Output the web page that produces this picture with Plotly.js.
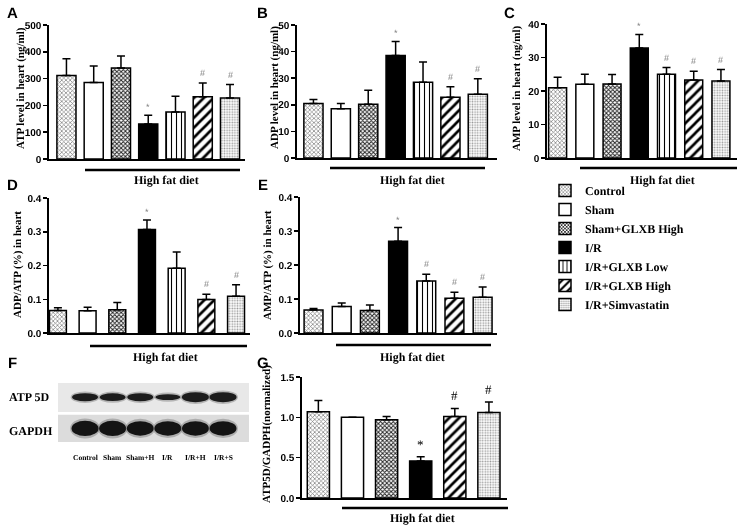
<!DOCTYPE html>
<html><head><meta charset="utf-8">
<script src="https://cdn.plot.ly/plotly-3.0.1.min.js"></script>
<style>html,body{margin:0;padding:0;background:#fff}#chart{width:743px;height:527px;will-change:transform}
#chart text{text-rendering:geometricPrecision}</style>
</head><body><div id="chart"></div>
<script>
// ---------- DATA ----------
const groups = ['Control','Sham','Sham+GLXB High','I/R','I/R+GLXB Low','I/R+GLXB High','I/R+Simvastatin'];
const atpMean = [312, 285, 340, 131, 175, 232, 228];
const atpErr  = [62, 62, 44, 32, 59, 52, 50];
const sigA    = ['', '', '', '*', '', '#', '#'];
const adpMean = [20.5, 18.5, 20.2, 38.5, 28.5, 22.8, 24.0];
const adpErr  = [1.5, 2.0, 5.3, 5.3, 7.6, 4.0, 5.8];
const sigB    = ['', '', '', '*', '', '#', '#'];
const ampMean = [21.0, 22.0, 22.1, 32.8, 25.0, 23.3, 23.0];
const ampErr  = [3.1, 3.0, 2.8, 4.1, 2.0, 2.6, 3.4];
const sigC    = ['', '', '', '*', '#', '#', '#'];
const adpAtpMean = [0.067, 0.066, 0.069, 0.307, 0.192, 0.099, 0.109];
const adpAtpErr  = [0.008, 0.010, 0.021, 0.028, 0.048, 0.016, 0.034];
const sigD       = ['', '', '', '*', '', '#', '#'];
const ampAtpMean = [0.068, 0.078, 0.066, 0.270, 0.153, 0.102, 0.105];
const ampAtpErr  = [0.004, 0.010, 0.016, 0.040, 0.020, 0.018, 0.030];
const sigE       = ['', '', '', '*', '#', '#', '#'];
const gGroups = [0, 1, 2, 3, 5, 6];           // group indices shown in panel G
const gMean   = [1.07, 1.00, 0.97, 0.46, 1.01, 1.06];
const gErr    = [0.14, 0.00, 0.04, 0.05, 0.10, 0.13];
const sigG    = ['', '', '', '*', '#', '#'];
const blotLanes = ['Control','Sham','Sham+H','I/R','I/R+H','I/R+S'];
const atp5dBand = [0.80, 0.78, 0.80, 0.58, 1.00, 1.00];  // relative band strength
const gapdhBand = [1.00, 1.00, 0.95, 0.95, 0.95, 0.95];
const dietLabel = 'High fat diet';

// ---------- STYLE / LAYOUT ----------
const W = 743, H = 527;
const px = x => x / W, py = y => 1 - y / H;
const styles = [
  {color:'#fff', shape:'x', fg:'#777777', size:3, sol:0.4},
  {color:'#fff', shape:'',  fg:'#000', size:6, sol:0.3},
  {color:'#fff', shape:'x', fg:'#262626', size:3, sol:0.55},
  {color:'#000', shape:'',  fg:'#000', size:6, sol:0.3},
  {color:'#fff', shape:'|', fg:'#000', size:5, sol:0.22},
  {color:'#fff', shape:'/', fg:'#000', size:7, sol:0.38},
  {color:'#fff', shape:'.', fg:'#9a9a9a', size:2.6, sol:0.35}
];
const panels = [
  {L:'A', mean:atpMean, err:atpErr, sig:sigA, idx:[0,1,2,3,4,5,6], xpx:[49,245], ypx:[25,159], xr:[-0.64,6.55], yr:[0,500], dt:100, fmt:'', bw:0.70,
   title:'ATP level in heart (ng/ml)', tx:20, ty:88, line:[170,85,240], lab:[166,180], let:[12,13], sigBig:false},
  {L:'B', mean:adpMean, err:adpErr, sig:sigB, idx:[0,1,2,3,4,5,6], xpx:[297,497], ypx:[25,158], xr:[-0.6,6.7], yr:[0,50], dt:10, fmt:'', bw:0.70,
   title:'ADP level in heart (ng/ml)', tx:274, ty:88, line:[168,330,485], lab:[412,180], let:[262,13], sigBig:false},
  {L:'C', mean:ampMean, err:ampErr, sig:sigC, idx:[0,1,2,3,4,5,6], xpx:[547,737], ypx:[24,158], xr:[-0.39,6.59], yr:[0,40], dt:10, fmt:'', bw:0.66,
   title:'AMP level in heart (ng/ml)', tx:516, ty:88, line:[168,580,737], lab:[662,180], let:[509,13], sigBig:false},
  {L:'D', mean:adpAtpMean, err:adpAtpErr, sig:sigD, idx:[0,1,2,3,4,5,6], xpx:[49,250], ypx:[198,333], xr:[-0.3,6.47], yr:[0,0.4], dt:0.1, fmt:'.1f', bw:0.57,
   title:'ADP/ATP (%) in heart', tx:17, ty:265, line:[346,90,247], lab:[165,357], let:[13,184], sigBig:false},
  {L:'E', mean:ampAtpMean, err:ampAtpErr, sig:sigE, idx:[0,1,2,3,4,5,6], xpx:[300,497], ypx:[197,333], xr:[-0.48,6.51], yr:[0,0.4], dt:0.1, fmt:'.1f', bw:0.67,
   title:'AMP/ATP (%) in heart', tx:267, ty:265, line:[345,336,491], lab:[412,357], let:[263,184], sigBig:false},
  {L:'G', mean:gMean, err:gErr, sig:sigG, idx:gGroups, xpx:[302,507], ypx:[377,498], xr:[-0.48,5.53], yr:[0,1.5], dt:0.5, fmt:'.1f', bw:0.65,
   title:'ATP5D/GADPH(normalized)', tx:266, ty:434, line:[508,342,508], lab:[422,518], let:[263,362], sigBig:true}
];

const tickFont = {family:'Liberation Sans, Arial, sans-serif', size:10, color:'#000', weight:'bold'};
const serifB = (s, c) => ({family:'Liberation Serif, Times New Roman, serif', size:s, color:c||'#000', weight:'bold'});
const traces = [], annotations = [], shapes = [];
const layout = {
  width:W, height:H, margin:{l:0,r:0,t:0,b:0}, paper_bgcolor:'#fff', plot_bgcolor:'rgba(0,0,0,0)',
  barmode:'overlay', showlegend:true,
  legend:{x:px(545), y:py(176), xanchor:'left', yanchor:'top', font:serifB(12), bgcolor:'rgba(0,0,0,0)',
          itemwidth:30, traceorder:'normal', tracegroupgap:0},
  annotations, shapes
};

panels.forEach((p, k) => {
  const n = k + 1, xa = 'x' + n, ya = 'y' + n;
  layout['xaxis' + n] = {domain:[px(p.xpx[0]), px(p.xpx[1])], range:p.xr, anchor:ya, showline:true, linewidth:1.6, linecolor:'#000',
    showgrid:false, zeroline:false, showticklabels:false, ticks:'', fixedrange:true};
  layout['yaxis' + n] = {domain:[py(p.ypx[1]), py(p.ypx[0])], range:p.yr, anchor:xa, showline:true, linewidth:1.6, linecolor:'#000',
    showgrid:false, zeroline:false, ticks:'outside', ticklen:4, tickwidth:1.5, tickcolor:'#000', dtick:p.dt, tick0:0,
    tickformat:p.fmt, tickfont:tickFont, fixedrange:true};
  p.mean.forEach((m, i) => {
    const s = styles[p.idx[i]];
    traces.push({type:'bar', x:[i], y:[m], width:[p.bw], xaxis:xa, yaxis:ya, name:groups[p.idx[i]],
      showlegend: k === 0, hoverinfo:'skip',
      marker:{color:s.color, line:{color:'#000', width:1.5},
        pattern:{shape:s.shape, fgcolor:s.fg, bgcolor:s.color, size:s.size, solidity:s.sol, fillmode:'replace'}},
      error_y:{type:'data', array:[p.err[i]], arrayminus:[0], symmetric:false, color:'#000', thickness:1.5, width:4}});
    if (p.sig[i]) {
      annotations.push({x:i, y:m + p.err[i], xref:xa, yref:ya, text:p.sig[i], showarrow:false, yanchor:'bottom',
        yshift: p.sigBig ? 3 : (p.sig[i] === '*' ? 1 : 3),
        font: p.sigBig ? {family:'Liberation Serif, serif', size:13, color:'#000'} : {family:'Liberation Sans, sans-serif', size:9, color:'#7f7f7f'}});
    }
  });
  annotations.push({x:px(p.tx), y:py(p.ty), xref:'paper', yref:'paper', text:p.title, textangle:-90, showarrow:false,
    xanchor:'center', yanchor:'middle', font:serifB(11)});
  shapes.push({type:'line', xref:'paper', yref:'paper', x0:px(p.line[1]), x1:px(p.line[2]), y0:py(p.line[0]), y1:py(p.line[0]),
    line:{color:'#000', width:2.5}});
  annotations.push({x:px(p.lab[0]), y:py(p.lab[1]), xref:'paper', yref:'paper', text:dietLabel, showarrow:false,
    xanchor:'center', yanchor:'middle', font:serifB(12)});
  annotations.push({x:px(p.let[0]), y:py(p.let[1]), xref:'paper', yref:'paper', text:p.L, showarrow:false,
    xanchor:'center', yanchor:'middle', font:{family:'Liberation Sans, Arial, sans-serif', size:15, color:'#000', weight:'bold'}});
});

// ---------- Panel F: western blot ----------
const bn = panels.length + 1, bx = 'x' + bn, by = 'y' + bn;
layout['xaxis' + bn] = {domain:[px(58), px(249)], range:[-0.98, 5.94], anchor:by, visible:false, fixedrange:true};
layout['yaxis' + bn] = {domain:[py(442), py(383)], range:[0, 1], anchor:bx, visible:false, fixedrange:true};
traces.push({type:'scatter', x:[], y:[], xaxis:bx, yaxis:by, showlegend:false, hoverinfo:'skip'});
shapes.push({type:'rect', xref:bx + ' domain', yref:by, x0:0, x1:1, y0:0.51, y1:1, fillcolor:'#e8e8e8', line:{width:0}, layer:'below'});
shapes.push({type:'rect', xref:bx + ' domain', yref:by, x0:0, x1:1, y0:0, y1:0.46, fillcolor:'#dcdcdc', line:{width:0}, layer:'below'});
blotLanes.forEach((lane, i) => {
  const a = atp5dBand[i], g = gapdhBand[i];
  const aw = 0.78 + 0.2 * a, ah = 0.17 * a, ac = 0.76;
  shapes.push({type:'circle', xref:bx, yref:by, x0:i - aw/2 - 0.05, x1:i + aw/2 + 0.05, y0:ac - ah/2 - 0.03, y1:ac + ah/2 + 0.03,
    fillcolor:'#555', opacity:0.35, line:{width:0}});
  shapes.push({type:'circle', xref:bx, yref:by, x0:i - aw/2, x1:i + aw/2, y0:ac - ah/2, y1:ac + ah/2, fillcolor:'#1c1c1c', line:{width:0}});
  const gw = 0.88 + 0.1 * g, gh = 0.26 * g, gc = 0.23;
  shapes.push({type:'circle', xref:bx, yref:by, x0:i - gw/2 - 0.05, x1:i + gw/2 + 0.05, y0:gc - gh/2 - 0.04, y1:gc + gh/2 + 0.04,
    fillcolor:'#555', opacity:0.35, line:{width:0}});
  shapes.push({type:'circle', xref:bx, yref:by, x0:i - gw/2, x1:i + gw/2, y0:gc - gh/2, y1:gc + gh/2, fillcolor:'#141414', line:{width:0}});
  annotations.push({x:i, xref:bx, y:py(457), yref:'paper', text:lane, showarrow:false, xanchor:'center', yanchor:'middle', font:serifB(7.5)});
});
annotations.push({x:px(7), y:py(397), xref:'paper', yref:'paper', text:'ATP 5D', showarrow:false, xanchor:'left', yanchor:'middle', font:serifB(12)});
annotations.push({x:px(7), y:py(431), xref:'paper', yref:'paper', text:'GAPDH', showarrow:false, xanchor:'left', yanchor:'middle', font:serifB(12)});
annotations.push({x:px(12), y:py(362), xref:'paper', yref:'paper', text:'F', showarrow:false, xanchor:'center', yanchor:'middle',
  font:{family:'Liberation Sans, Arial, sans-serif', size:15, color:'#000', weight:'bold'}});

Plotly.newPlot('chart', traces, layout, {displayModeBar:false, staticPlot:true});
</script></body></html>
